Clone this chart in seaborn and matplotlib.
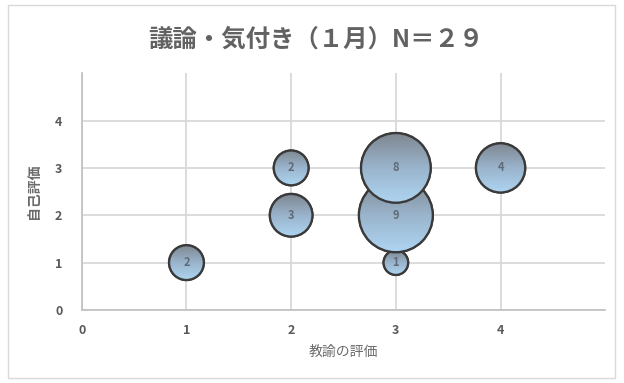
import numpy as np
import pandas as pd
import matplotlib
matplotlib.use("Agg")
import matplotlib.pyplot as plt
import seaborn as sns
from matplotlib.path import Path
from matplotlib.patches import PathPatch, Rectangle
from matplotlib.transforms import IdentityTransform
from matplotlib.colors import LinearSegmentedColormap

# Data
teacher_eval = [1, 2, 2, 3, 3, 3, 4]
self_eval = [1, 2, 3, 1, 2, 3, 3]
counts = [2, 3, 2, 1, 9, 8, 4]
x_ticks = [0, 1, 2, 3, 4]
y_ticks = [0, 1, 2, 3, 4]
title = "議論・気付き（１月）N＝２９"
xlabel = "教諭の評価"
ylabel = "自己評価"

df = pd.DataFrame({"x": teacher_eval, "y": self_eval, "n": counts})

sns.set_theme(style="whitegrid")
plt.rcParams["font.family"] = ["Noto Sans CJK JP", "DejaVu Sans"]

DPI = 100
fig = plt.figure(figsize=(6.24, 3.83), dpi=DPI)
ax = fig.add_axes([0.131, 0.1906, 0.839, 0.6184])

sns.scatterplot(data=df, x="x", y="y", size="n", sizes=(315, 2835),
                size_norm=(1, 9), legend=False, ax=ax,
                color="#a3bfd8", edgecolor="#3a3a3a", linewidth=1.4, zorder=3)

ax.set_xlim(0, 5)
ax.set_ylim(0, 5)
ax.set_xticks(x_ticks)
ax.set_yticks(y_ticks)
ax.grid(True, color="#d9d9d9", linewidth=1.3)
ax.set_axisbelow(True)
for s in ["top", "right"]:
    ax.spines[s].set_visible(False)
for s in ["left", "bottom"]:
    ax.spines[s].set_color("#bfbfbf")
    ax.spines[s].set_linewidth(1.2)
ax.tick_params(axis="both", length=0, labelsize=9, labelcolor="#595959")
for lab in ax.get_xticklabels() + ax.get_yticklabels():
    lab.set_fontweight("bold")
ax.tick_params(axis="y", pad=14)
ax.tick_params(axis="x", pad=10)
ax.set_xlabel(xlabel, fontsize=10, color="#6b6b6b", labelpad=6)
ax.set_ylabel(ylabel, fontsize=10, color="#6b6b6b", labelpad=10, fontweight="bold")
ax.set_title(title, fontsize=17.6, color="#626262", pad=19, fontweight="bold",
             x=0.447)

# gradient fill per bubble, derived from the seaborn collection
fig.canvas.draw()
coll = ax.collections[0]
offs = coll.get_offsets()
sizes = coll.get_sizes()
grad = LinearSegmentedColormap.from_list("g", ["#aed5f2", "#9ab4cc", "#7e8790"])
gimg = np.linspace(0, 1, 256).reshape(-1, 1)
inv = ax.transData.inverted()
for i, (o, s) in enumerate(zip(offs, sizes)):
    c = ax.transData.transform(o)
    r = 0.5 * np.sqrt(s) * DPI / 72.0
    circ = Path.circle(c, r)
    (x0, y0), (x1, y1) = inv.transform([c - r, c + r])
    z = 4 + 2 * i
    im = ax.imshow(gimg, cmap=grad, extent=[x0, x1, y0, y1], origin="lower",
                   aspect="auto", zorder=z, interpolation="bilinear")
    im.set_clip_path(circ, IdentityTransform())
    ax.add_patch(PathPatch(circ, transform=IdentityTransform(), facecolor="none",
                           edgecolor="#3a3a3a", linewidth=1.7, zorder=z + 1))
    ax.text(o[0], o[1], str(counts[i]), ha="center", va="center",
            fontsize=8, color="#5f6b78", fontweight="bold", zorder=z + 1)

ax.set_xlim(0, 5)
ax.set_ylim(0, 5)

fig.patches.append(Rectangle((8 / 624, 5 / 383), 607 / 624, 373 / 383,
                             transform=fig.transFigure, fill=False,
                             edgecolor="#d9d9d9", linewidth=1))

fig.savefig("out.png", dpi=DPI)
